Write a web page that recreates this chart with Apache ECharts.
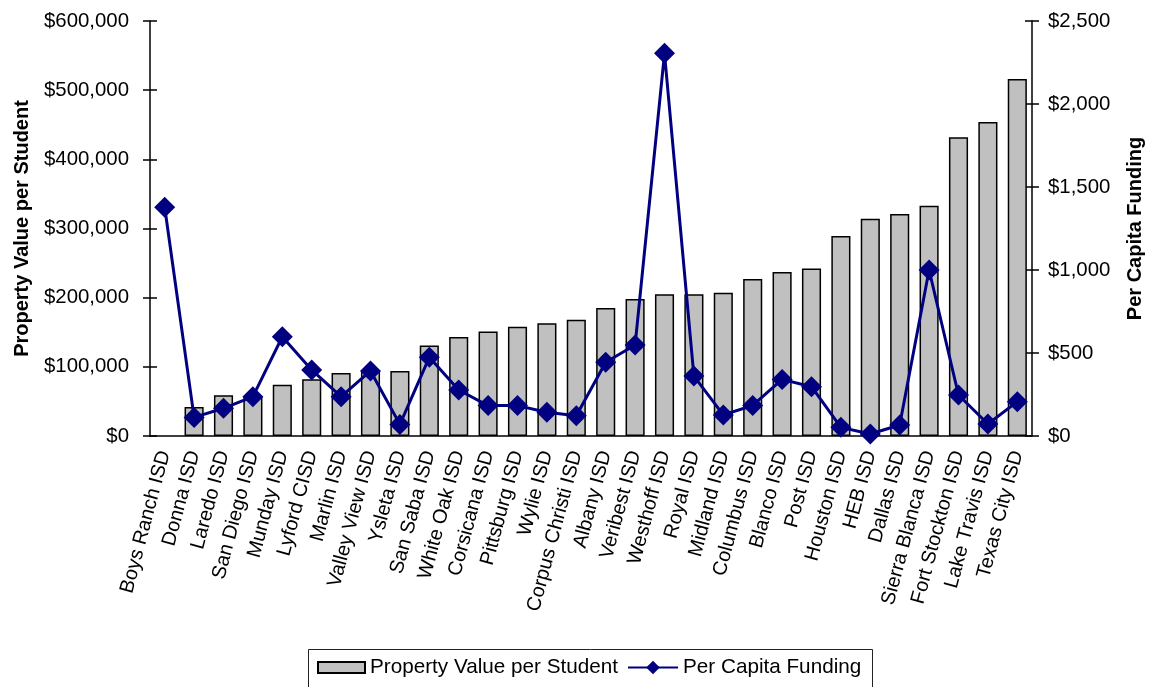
<!DOCTYPE html>
<html>
<head>
<meta charset="utf-8">
<script src="https://cdn.jsdelivr.net/npm/echarts@6/dist/echarts.min.js"></script>
<style>
html,body{margin:0;padding:0;background:#fff;}
#chart{width:1151px;height:687px;}
</style>
</head>
<body>
<div id="chart"></div>
<script>
const categories = [
  'Boys Ranch ISD','Donna ISD','Laredo ISD','San Diego ISD','Munday ISD','Lyford CISD',
  'Marlin ISD','Valley View ISD','Ysleta ISD','San Saba ISD','White Oak ISD','Corsicana ISD',
  'Pittsburg ISD','Wylie ISD','Corpus Christi ISD','Albany ISD','Veribest ISD','Westhoff ISD',
  'Royal ISD','Midland ISD','Columbus ISD','Blanco ISD','Post ISD','Houston ISD','HEB ISD',
  'Dallas ISD','Sierra Blanca ISD','Fort Stockton ISD','Lake Travis ISD','Texas City ISD'
];
const propertyValue = [
  null, 42000, 59000, 58000, 74000, 82000,
  91000, 93000, 94000, 131000, 143000, 151000,
  158000, 163000, 168000, 185000, 198000, 205000,
  205000, 207000, 227000, 237000, 242000, 289000, 314000,
  321000, 333000, 432000, 454000, 516000
];
const perCapitaFunding = [
  1378, 112, 167, 237, 598, 398,
  237, 392, 70, 474, 277, 183,
  183, 143, 122, 444, 548, 2305,
  361, 127, 184, 341, 297, 52, 12,
  66, 1000, 247, 72, 207
];
const seriesNames = ['Property Value per Student', 'Per Capita Funding'];
const leftAxisMax = 600000, leftAxisStep = 100000;
const rightAxisMax = 2500, rightAxisStep = 500;

const FONT = '"Liberation Sans", Arial, sans-serif';
const FS = 20.7;
const money = v => '$' + Number(v).toLocaleString('en-US');
const axisLineStyle = { color: '#000', width: 1.5 };

const chart = echarts.init(document.getElementById('chart'));
chart.setOption({
  animation: false,
  backgroundColor: '#fff',
  textStyle: { fontFamily: FONT },
  grid: { left: 150, right: 119, top: 21, bottom: 251, containLabel: false, outerBoundsMode: 'none' },
  xAxis: [
    {
      type: 'category', data: categories, position: 'bottom',
      axisLine: { lineStyle: axisLineStyle },
      axisTick: { length: 7, lineStyle: axisLineStyle },
      axisLabel: { interval: 0, rotate: 75, margin: 15, fontSize: 20, color: '#000', fontFamily: FONT }
    },
    {
      type: 'category', data: categories, position: 'bottom',
      axisLine: { show: false },
      axisTick: { inside: true, length: 7, lineStyle: axisLineStyle },
      axisLabel: { show: false }
    }
  ],
  yAxis: [
    {
      type: 'value', position: 'left', min: 0, max: leftAxisMax, interval: leftAxisStep,
      name: seriesNames[0], nameLocation: 'middle', nameGap: 118, nameRotate: 90,
      nameTextStyle: { fontSize: 20, fontWeight: 'bold', color: '#000', fontFamily: FONT },
      axisLine: { show: true, lineStyle: axisLineStyle },
      axisTick: { show: true, length: 7, lineStyle: axisLineStyle },
      axisLabel: { margin: 21, fontSize: 20.4, color: '#000', fontFamily: FONT, formatter: money },
      splitLine: { show: false }
    },
    {
      type: 'value', position: 'right', min: 0, max: rightAxisMax, interval: rightAxisStep,
      name: seriesNames[1], nameLocation: 'middle', nameGap: 93, nameRotate: 90,
      nameTextStyle: { fontSize: 20, fontWeight: 'bold', color: '#000', fontFamily: FONT },
      axisLine: { show: true, lineStyle: axisLineStyle },
      axisTick: { show: true, length: 7, lineStyle: axisLineStyle },
      axisLabel: { margin: 16, fontSize: 20.4, color: '#000', fontFamily: FONT, formatter: money },
      splitLine: { show: false }
    },
    {
      type: 'value', position: 'left', min: 0, max: leftAxisMax, interval: leftAxisStep,
      axisLine: { show: false },
      axisTick: { show: true, inside: true, length: 7, lineStyle: axisLineStyle },
      axisLabel: { show: false }, splitLine: { show: false }
    },
    {
      type: 'value', position: 'right', min: 0, max: rightAxisMax, interval: rightAxisStep,
      axisLine: { show: false },
      axisTick: { show: true, inside: true, length: 7, lineStyle: axisLineStyle },
      axisLabel: { show: false }, splitLine: { show: false }
    }
  ],
  legend: [
    {
      data: [{ name: seriesNames[0], icon: 'rect' }],
      left: 317, top: 657, padding: 0, itemWidth: 47, itemHeight: 11,
      textStyle: { fontSize: FS, color: '#000', fontFamily: FONT }
    },
    {
      data: [seriesNames[1]],
      left: 627, top: 657, padding: 0, itemWidth: 50, itemHeight: 17,
      textStyle: { fontSize: FS, color: '#000', fontFamily: FONT }
    }
  ],
  graphic: [
    {
      type: 'rect', shape: { x: 308.5, y: 649.5, width: 564, height: 60 },
      style: { fill: 'none', stroke: '#222', lineWidth: 1 }, silent: true
    }
  ],
  series: [
    {
      type: 'bar', name: seriesNames[0], data: propertyValue,
      xAxisIndex: 0, yAxisIndex: 0, barWidth: '65%',
      itemStyle: { color: '#C0C0C0', borderColor: '#000', borderWidth: 1.5 }
    },
    {
      type: 'line', name: seriesNames[1], data: perCapitaFunding,
      xAxisIndex: 0, yAxisIndex: 1, symbol: 'diamond', symbolSize: 21,
      lineStyle: { color: '#000080', width: 3 },
      itemStyle: { color: '#000080' }, z: 5
    }
  ]
});
</script>
</body>
</html>
